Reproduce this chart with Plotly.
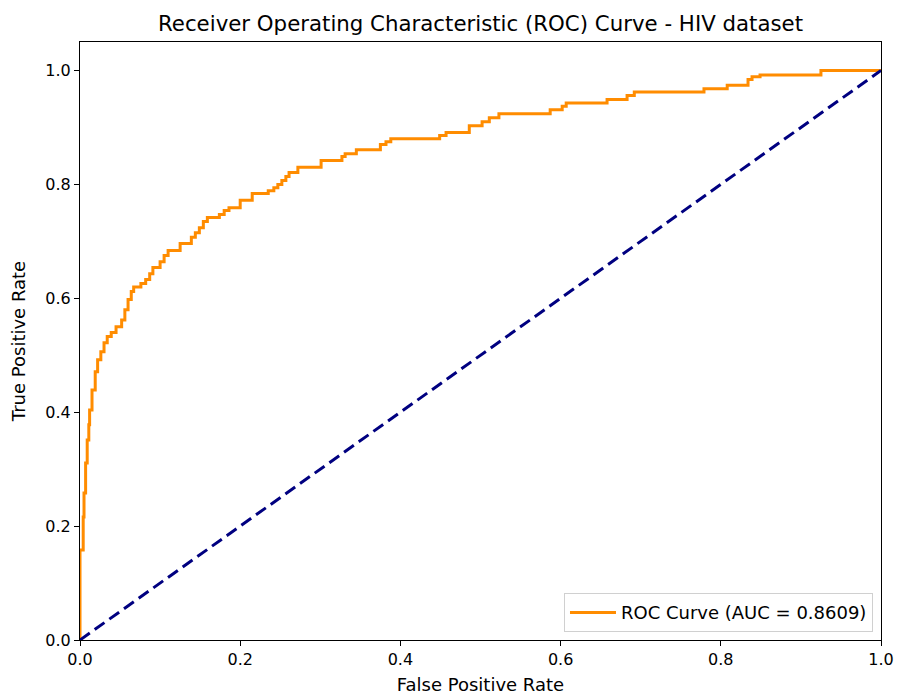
import plotly.graph_objects as go

# ROC curve vertices (false positive rate, true positive rate)
fpr = [0.0, 0.0, 0.004, 0.004, 0.005, 0.005, 0.007, 0.007, 0.009, 0.009, 0.011, 0.011,
       0.012, 0.012, 0.015, 0.015, 0.019, 0.019, 0.022, 0.022, 0.026, 0.026, 0.030, 0.030,
       0.034, 0.034, 0.039, 0.039, 0.045, 0.045, 0.052, 0.052, 0.056, 0.056, 0.060, 0.060,
       0.064, 0.064, 0.067, 0.067, 0.076, 0.076, 0.082, 0.082, 0.087, 0.087, 0.091, 0.091,
       0.100, 0.100, 0.105, 0.105, 0.110, 0.110, 0.125, 0.125, 0.139, 0.139, 0.144, 0.144,
       0.149, 0.149, 0.154, 0.154, 0.159, 0.159, 0.174, 0.174, 0.180, 0.180, 0.186, 0.186,
       0.200, 0.200, 0.215, 0.215, 0.235, 0.235, 0.242, 0.242, 0.247, 0.247, 0.252, 0.252,
       0.257, 0.257, 0.261, 0.261, 0.272, 0.272, 0.301, 0.301, 0.327, 0.327, 0.331, 0.331,
       0.345, 0.345, 0.375, 0.375, 0.382, 0.382, 0.388, 0.388, 0.449, 0.449, 0.457, 0.457,
       0.486, 0.486, 0.502, 0.502, 0.511, 0.511, 0.523, 0.523, 0.587, 0.587, 0.602, 0.602,
       0.607, 0.607, 0.658, 0.658, 0.683, 0.683, 0.692, 0.692, 0.779, 0.779, 0.808, 0.808,
       0.834, 0.834, 0.839, 0.839, 0.849, 0.849, 0.925, 0.925, 1.0]
tpr = [0.0, 0.158, 0.158, 0.216, 0.216, 0.258, 0.258, 0.311, 0.311, 0.351, 0.351, 0.378,
       0.378, 0.404, 0.404, 0.439, 0.439, 0.471, 0.471, 0.492, 0.492, 0.506, 0.506, 0.522,
       0.522, 0.533, 0.533, 0.540, 0.540, 0.550, 0.550, 0.562, 0.562, 0.580, 0.580, 0.598,
       0.598, 0.612, 0.612, 0.620, 0.620, 0.626, 0.626, 0.633, 0.633, 0.643, 0.643, 0.654,
       0.654, 0.664, 0.664, 0.675, 0.675, 0.684, 0.684, 0.696, 0.696, 0.707, 0.707, 0.715,
       0.715, 0.724, 0.724, 0.735, 0.735, 0.742, 0.742, 0.747, 0.747, 0.754, 0.754, 0.759,
       0.759, 0.772, 0.772, 0.784, 0.784, 0.789, 0.789, 0.794, 0.794, 0.800, 0.800, 0.807,
       0.807, 0.814, 0.814, 0.821, 0.821, 0.830, 0.830, 0.842, 0.842, 0.849, 0.849, 0.854,
       0.854, 0.861, 0.861, 0.870, 0.870, 0.875, 0.875, 0.880, 0.880, 0.886, 0.886, 0.891,
       0.891, 0.903, 0.903, 0.910, 0.910, 0.917, 0.917, 0.924, 0.924, 0.931, 0.931, 0.937,
       0.937, 0.943, 0.943, 0.949, 0.949, 0.956, 0.956, 0.962, 0.962, 0.968, 0.968, 0.974,
       0.974, 0.984, 0.984, 0.989, 0.989, 0.992, 0.992, 1.0, 1.0]

diag_x = [0, 1]
diag_y = [0, 1]
auc = 0.8609

ticks = [0.0, 0.2, 0.4, 0.6, 0.8, 1.0]
tick_text = ["0.0", "0.2", "0.4", "0.6", "0.8", "1.0"]

FONT = "DejaVu Sans"
W, H = 898, 695

fig = go.Figure()
fig.add_trace(go.Scatter(
    x=fpr, y=tpr, mode="lines",
    line=dict(color="#ff8c00", width=3),
    name=f"ROC Curve (AUC = {auc:.4f})",
))
fig.add_trace(go.Scatter(
    x=diag_x, y=diag_y, mode="lines",
    line=dict(color="#000080", width=3, dash="12px,6px"),
    showlegend=False,
))

axis_common = dict(
    showgrid=False, zeroline=False, automargin=False,
    showline=True, linecolor="black", linewidth=1, mirror=True,
    ticks="outside", ticklen=5, tickwidth=1, tickcolor="black",
    tickvals=ticks, ticktext=tick_text,
    tickfont=dict(family=FONT, size=16, color="black"),
)

fig.update_layout(
    width=W, height=H,
    margin=dict(l=80, r=17, t=42, b=55),
    paper_bgcolor="white", plot_bgcolor="white",
    font=dict(family=FONT, color="black"),
    title=dict(
        text="Receiver Operating Characteristic (ROC) Curve - HIV dataset",
        x=(80 + (W - 17)) / 2 / W, xanchor="center",
        y=1 - 24 / H, yanchor="middle",
        font=dict(family=FONT, size=21.3, color="black"),
    ),
    xaxis=dict(range=[0, 1.0], title=dict(text="False Positive Rate",
               font=dict(family=FONT, size=18, color="black"), standoff=11), **axis_common),
    yaxis=dict(range=[0, 1.05], title=dict(text="True Positive Rate",
               font=dict(family=FONT, size=18, color="black"), standoff=15), **axis_common),
    legend=dict(
        x=0.99, y=0.013, xanchor="right", yanchor="bottom",
        bgcolor="white", bordercolor="#d0d0d0", borderwidth=1,
        itemwidth=46,
        font=dict(family=FONT, size=18, color="black"),
    ),
)

# remove the page's default body margin so the figure fills the window exactly
fig.write_html(
    "out.html",
    config={"displayModeBar": False},
    post_script="document.body.style.margin='0';document.body.style.overflow='hidden';",
)
